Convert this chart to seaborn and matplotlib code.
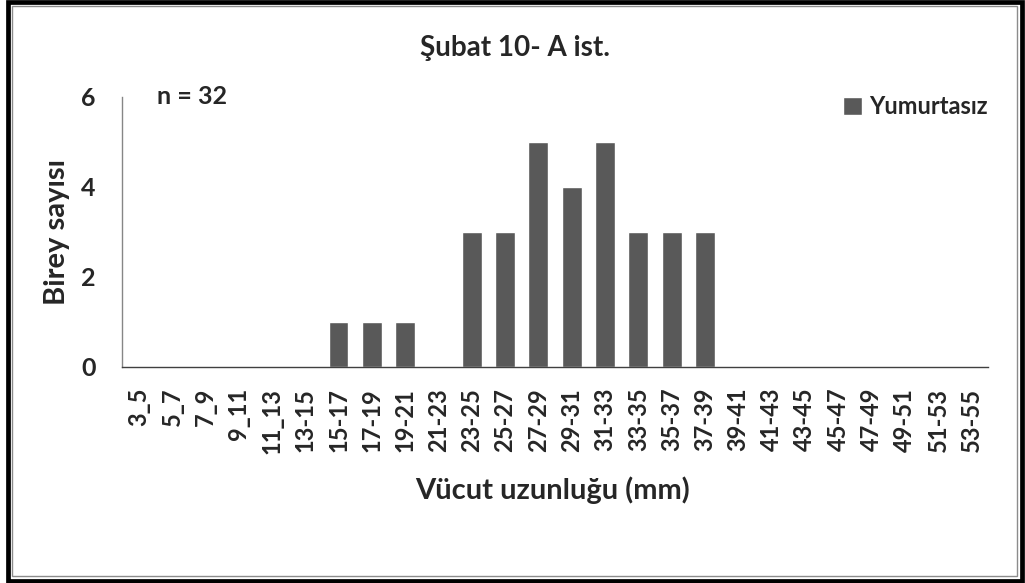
import matplotlib
matplotlib.use("Agg")
import matplotlib.pyplot as plt
import seaborn as sns
import pandas as pd
from matplotlib.patches import Rectangle

categories = ["3_5", "5_7", "7_9", "9_11", "11_13", "13-15", "15-17", "17-19",
              "19-21", "21-23", "23-25", "25-27", "27-29", "29-31", "31-33",
              "33-35", "35-37", "37-39", "39-41", "41-43", "43-45", "45-47",
              "47-49", "49-51", "51-53", "53-55"]
counts = [0, 0, 0, 0, 0, 0, 1, 1, 1, 0, 3, 3, 5, 4, 5, 3, 3, 3, 0, 0, 0, 0, 0, 0, 0, 0]
series_name = "Yumurtasız"
y_ticks = [0, 2, 4, 6]
title = "Şubat 10- A ist."
n_text = "n = 32"
x_label = "Vücut uzunluğu (mm)"
y_label = "Birey sayısı"

sns.set_style("white")
plt.rcParams["font.family"] = ["Lato", "DejaVu Sans"]
plt.rcParams["font.weight"] = "bold"

W, H = 1025, 583
fig = plt.figure(figsize=(W / 100, H / 100), dpi=100)
ax = fig.add_axes([122 / W, 1 - 367 / H, (988 - 122) / W, (367 - 97) / H])

df = pd.DataFrame({"cat": categories, "val": counts})
sns.barplot(data=df, x="cat", y="val", color="#595959", saturation=1,
            width=0.6, ax=ax, label=series_name, order=categories)

ax.set_ylim(0, 6)
ax.set_xlim(-0.5, len(categories) - 0.5)
ax.set_yticks(y_ticks)
ax.set_yticklabels([str(t) for t in y_ticks], fontsize=18, fontweight="bold")
ax.set_xticks(range(len(categories)))
ax.set_xticklabels(categories, rotation=90, fontsize=17, fontweight="bold")
ax.tick_params(axis="both", length=0)
ax.tick_params(axis="x", pad=15)
ax.tick_params(axis="y", pad=19)
ax.set_xlabel("")
ax.set_ylabel("")

for s in ["top", "right"]:
    ax.spines[s].set_visible(False)
ax.spines["left"].set_color("#868686")
ax.spines["left"].set_linewidth(1.0)
ax.spines["bottom"].set_color("#404040")
ax.spines["bottom"].set_linewidth(1.0)

fig.text(515 / W, 1 - 48 / H, title, ha="center", va="center",
         fontsize=20, fontweight="bold")
fig.text(157 / W, 1 - 97 / H, n_text, ha="left", va="center",
         fontsize=18, fontweight="bold")
fig.text(553 / W, 1 - 490 / H, x_label, ha="center", va="center",
         fontsize=21, fontweight="bold")
fig.text(57 / W, 1 - 232 / H, y_label, ha="center", va="center",
         rotation=90, fontsize=21, fontweight="bold")

leg = ax.legend(loc="center left", bbox_to_anchor=(843 / W, 1 - 107 / H),
                bbox_transform=fig.transFigure, frameon=False, borderpad=0,
                borderaxespad=0, handlelength=0.8, handleheight=0.8,
                handletextpad=0.3, prop={"size": 17, "weight": "bold"})

# chart border (outer black frame with inner gray line)
fig.patches.append(Rectangle((8 / W, 1 - 580.5 / H), (1021.5 - 8) / W, (580.5 - 2) / H,
                             transform=fig.transFigure, fill=False,
                             edgecolor="black", linewidth=3.4, figure=fig))
fig.patches.append(Rectangle((11.5 / W, 1 - 576 / H), (1017 - 11.5) / W, (576 - 5.5) / H,
                             transform=fig.transFigure, fill=False,
                             edgecolor="#8c8c8c", linewidth=1.0, figure=fig))

fig.savefig("out.png", dpi=100)
